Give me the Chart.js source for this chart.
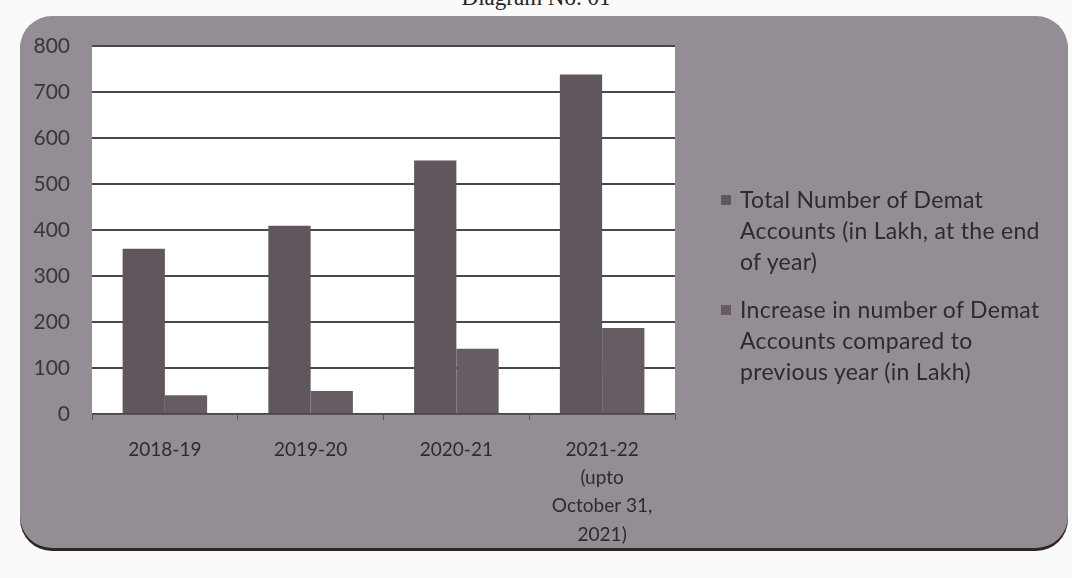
<!DOCTYPE html>
<html>
<head>
<meta charset="utf-8">
<script src="https://cdn.jsdelivr.net/npm/chart.js@4/dist/chart.umd.min.js"></script>
<style>
  html, body { margin:0; padding:0; background:#fbfafb; }
  #wrap { position:relative; width:1072px; height:578px; overflow:hidden; background:#fbfafb; }
  #panel { position:absolute; left:20px; top:16px; width:1048px; height:532px; border-radius:32px;
           background:#958d95; box-shadow: 0 3px 0 #2c2629; }
  #title { position:absolute; left:0; width:1072px; top:-15px; text-align:center;
           font-family:"Liberation Serif", serif; font-size:23px; color:#222; }
  #c { position:absolute; left:0; top:0; }
  #legend { position:absolute; left:718px; top:184px; width:350px; font-family:Lato, sans-serif;
            font-size:23px; letter-spacing:0.3px; line-height:31px; color:#2e2a2d; white-space:nowrap; }
  .item { position:relative; padding-left:22px; margin-bottom:17px; }
  .sw { position:absolute; left:3px; top:11px; width:10px; height:10px; }
</style>
</head>
<body>
<div id="wrap">
  <div id="panel"></div>
  <div id="title">Diagram No. 01</div>
  <canvas id="c" width="1072" height="578"></canvas>
  <div id="legend"></div>
</div>
<script>
const categories = ["2018-19", "2019-20", "2020-21", ["2021-22", "(upto", "October 31,", "2021)"]];
const seriesNames = [
  ["Total Number of Demat", "Accounts (in Lakh, at the end", "of year)"],
  ["Increase in number of Demat", "Accounts compared to", "previous year (in Lakh)"]
];
const totalAccounts = [359, 409, 551, 738];
const increaseAccounts = [41, 50, 142, 187];
const yTicks = [0, 100, 200, 300, 400, 500, 600, 700, 800];
const colors = ["#5f575d", "#655d63"];

const plotBg = {
  id: 'plotBg',
  beforeDraw(chart) {
    const {ctx, chartArea:a} = chart;
    ctx.save();
    ctx.fillStyle = '#ffffff';
    ctx.fillRect(a.left, a.top, a.right - a.left, a.bottom - a.top);
    ctx.restore();
  }
};

new Chart(document.getElementById('c'), {
  type: 'bar',
  data: {
    labels: categories,
    datasets: [
      { label: seriesNames[0].join(' '), data: totalAccounts, backgroundColor: colors[0], borderWidth: 0 },
      { label: seriesNames[1].join(' '), data: increaseAccounts, backgroundColor: colors[1], borderWidth: 0 }
    ]
  },
  options: {
    responsive: false,
    animation: false,
    layout: { padding: { left: 30, top: 46, right: 397, bottom: 0 } },
    plugins: { legend: { display: false }, tooltip: { enabled: false } },
    datasets: { bar: { categoryPercentage: 0.58, barPercentage: 1.0 } },
    scales: {
      x: {
        afterFit(s) { s.height = 164; },
        grid: { drawOnChartArea: false, drawTicks: true, tickLength: 6, color: '#555', offset: true },
        border: { display: true, color: '#555', width: 1 },
        ticks: { color: '#2e2a2d', padding: 16, maxRotation: 0,
                 font: { family: 'Lato', size: 19, lineHeight: 1.48 } }
      },
      y: {
        min: 0, max: 800,
        afterFit(s) { s.width = 62; },
        afterBuildTicks(s) { s.ticks = yTicks.map(v => ({ value: v })); },
        grid: { color: '#4a4649', lineWidth: 2, drawTicks: false },
        border: { display: false },
        ticks: { color: '#3a3538', padding: 22, font: { family: 'Lato', size: 21 } }
      }
    }
  },
  plugins: [plotBg]
});

const leg = document.getElementById('legend');
seriesNames.forEach((lines, i) => {
  const d = document.createElement('div');
  d.className = 'item';
  const sw = document.createElement('span');
  sw.className = 'sw';
  sw.style.background = colors[i];
  d.appendChild(sw);
  lines.forEach((t, j) => {
    if (j) d.appendChild(document.createElement('br'));
    d.appendChild(document.createTextNode(t));
  });
  leg.appendChild(d);
});
</script>
</body>
</html>
